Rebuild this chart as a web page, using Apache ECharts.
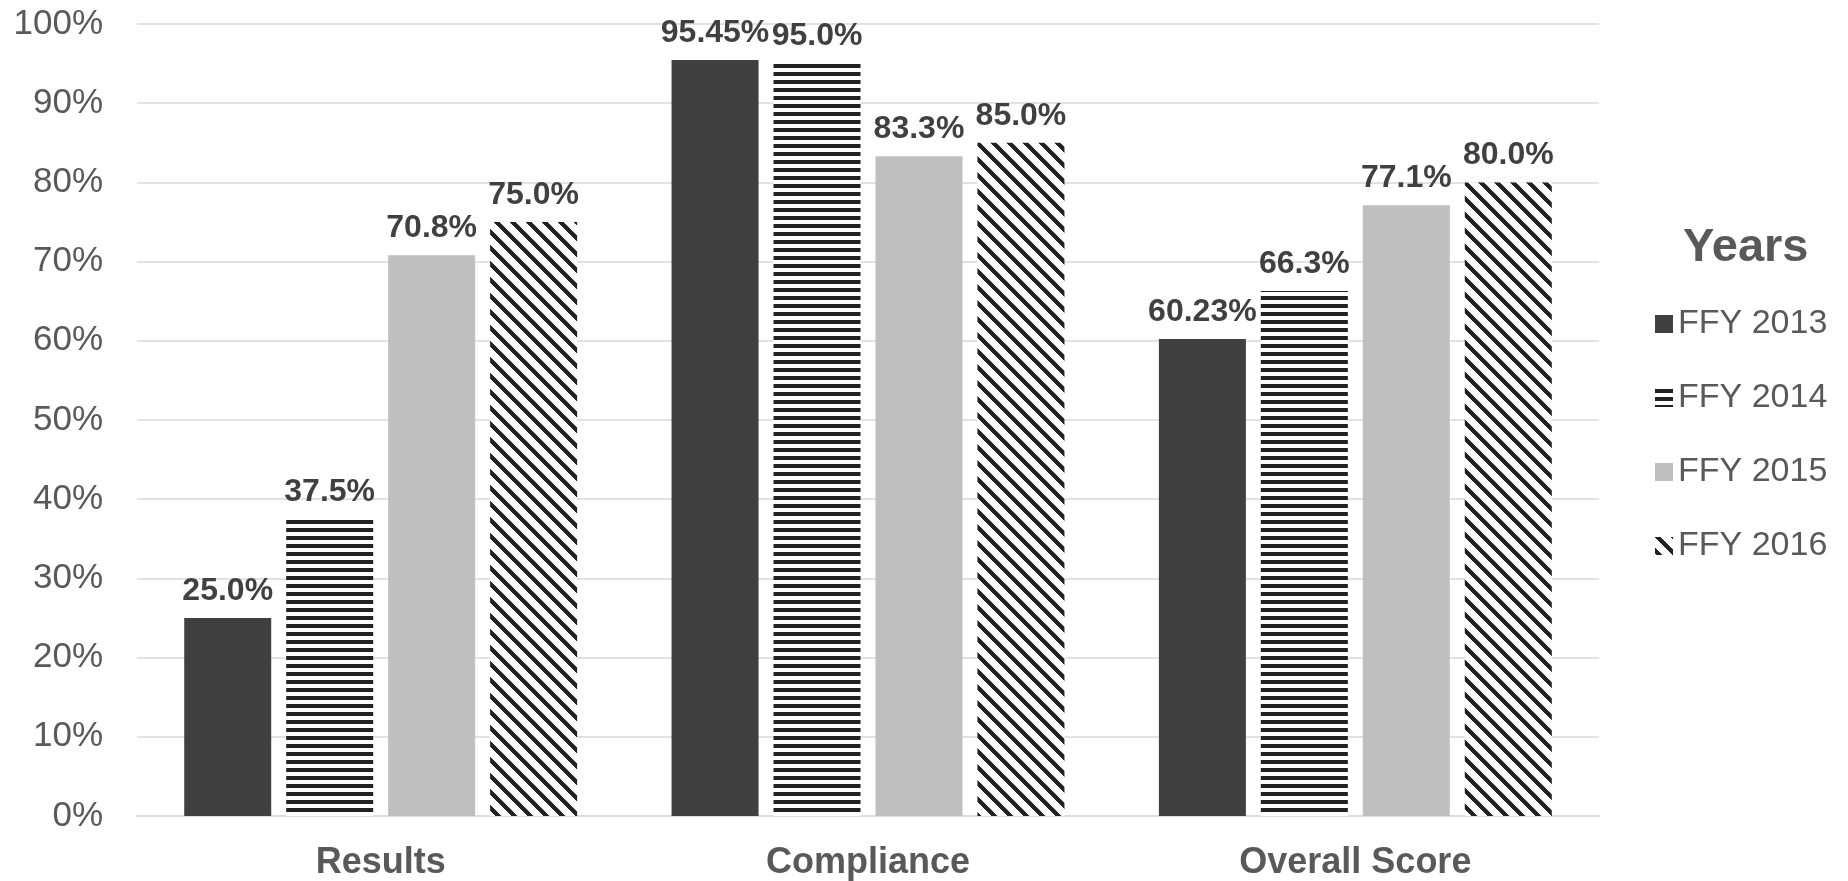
<!DOCTYPE html>
<html>
<head>
<meta charset="utf-8">
<title>Scores by Year</title>
<script src="https://cdn.jsdelivr.net/npm/echarts@6/dist/echarts.min.js"></script>
<style>
  html, body { margin: 0; padding: 0; background: #ffffff; }
  #chart { width: 1848px; height: 881px; }
</style>
</head>
<body>
<div id="chart"></div>
<script>
// Chart data
const categories = ['Results', 'Compliance', 'Overall Score'];
const seriesNames = ['FFY 2013', 'FFY 2014', 'FFY 2015', 'FFY 2016'];
const ffy2013 = [25.0, 95.45, 60.23];
const ffy2014 = [37.5, 95.0, 66.3];
const ffy2015 = [70.8, 83.3, 77.1];
const ffy2016 = [75.0, 85.0, 80.0];
const yTicks = [0, 10, 20, 30, 40, 50, 60, 70, 80, 90, 100];

const FONT = '"Liberation Sans", Arial, Helvetica, sans-serif';

// Fill tiles: horizontal stripes and downward diagonal hatch
function stripeTile() {
  const c = document.createElement('canvas');
  c.width = 8; c.height = 8;
  const g = c.getContext('2d');
  g.fillStyle = '#ffffff';
  g.fillRect(0, 0, 8, 8);
  g.fillStyle = '#222222';
  g.fillRect(0, 0, 8, 4);
  return c;
}
function diagonalTile() {
  const size = 16, thick = 6;
  const c = document.createElement('canvas');
  c.width = size; c.height = size;
  const g = c.getContext('2d');
  g.fillStyle = '#ffffff';
  g.fillRect(0, 0, size, size);
  g.fillStyle = '#222222';
  for (let y = 0; y < size; y++) {
    for (let k = 0; k < thick; k++) {
      const x = (y + k) % size;
      g.fillRect(x, y, 1, 1);
    }
  }
  return c;
}

const fills = [
  '#404040',
  { image: stripeTile(), repeat: 'repeat' },
  '#bfbfbf',
  { image: diagonalTile(), repeat: 'repeat' }
];

function pct(v) {
  const tenth = v * 10;
  const s = Math.abs(tenth - Math.round(tenth)) < 1e-6 ? v.toFixed(1) : v.toFixed(2);
  return s + '%';
}

const values = [ffy2013, ffy2014, ffy2015, ffy2016];

const chart = echarts.init(document.getElementById('chart'), null, { renderer: 'canvas' });
chart.setOption({
  backgroundColor: '#ffffff',
  animation: false,
  textStyle: { fontFamily: FONT },
  title: {
    text: 'Years',
    left: 1678,
    top: 220,
    textStyle: { fontSize: 47, fontWeight: 'bold', color: '#595959', fontFamily: FONT }
  },
  legend: {
    orient: 'vertical',
    left: 1650,
    top: 302,
    itemWidth: 18,
    itemHeight: 18,
    itemGap: 40,
    icon: 'rect',
    data: seriesNames,
    textStyle: { fontSize: 34, color: '#595959', fontFamily: FONT, lineHeight: 34 }
  },
  grid: { left: 137, right: 249, top: 24, bottom: 65, containLabel: false },
  xAxis: {
    type: 'category',
    data: categories,
    axisTick: { show: false },
    axisLine: { lineStyle: { color: '#d9d9d9', width: 1.5 } },
    axisLabel: { fontSize: 36, fontWeight: 'bold', color: '#595959', margin: 29, fontFamily: FONT }
  },
  yAxis: {
    type: 'value',
    min: yTicks[0],
    max: yTicks[yTicks.length - 1],
    interval: yTicks[1] - yTicks[0],
    axisLine: { show: false },
    axisTick: { show: false },
    splitLine: { lineStyle: { color: '#d9d9d9', width: 1.5 } },
    axisLabel: { fontSize: 35, color: '#595959', margin: 34, formatter: '{value}%', fontFamily: FONT }
  },
  series: seriesNames.map((name, i) => ({
    name: name,
    type: 'bar',
    data: values[i],
    barWidth: 87,
    barGap: '17.2%',
    itemStyle: { color: fills[i] },
    label: {
      show: true,
      position: 'top',
      distance: 11,
      fontSize: 32,
      fontWeight: 'bold',
      color: '#404040',
      fontFamily: FONT,
      formatter: p => pct(p.value)
    }
  }))
});
</script>
</body>
</html>
